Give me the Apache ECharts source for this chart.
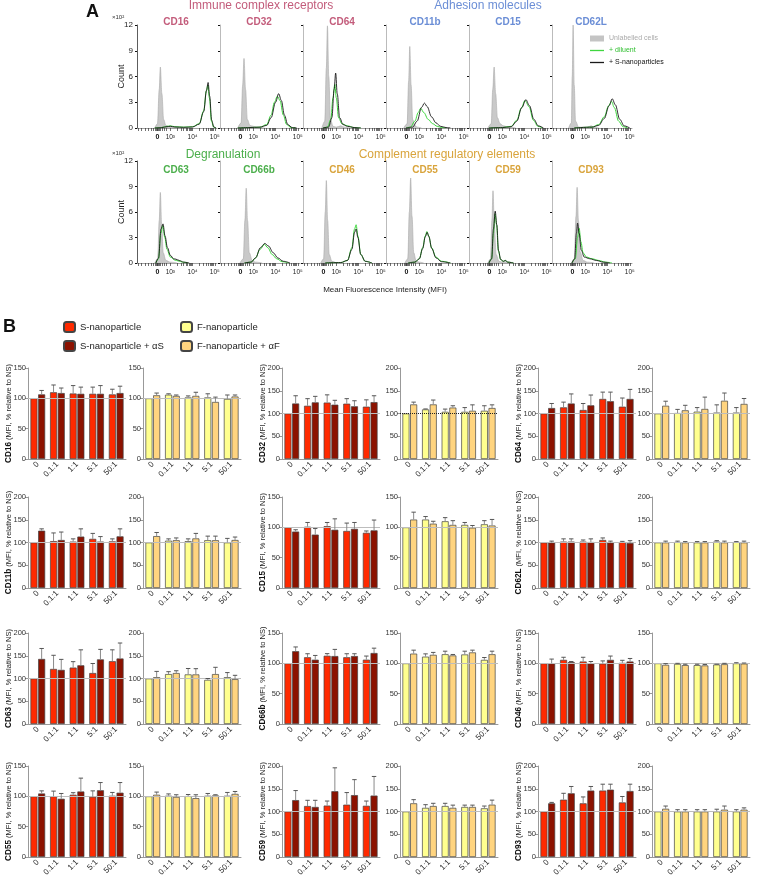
<!DOCTYPE html>
<html><head><meta charset="utf-8">
<script src="https://cdn.jsdelivr.net/npm/echarts@6/dist/echarts.min.js"></script>
<style>html,body{margin:0;padding:0;background:#fff}#c{width:757px;height:880px}</style>
</head><body><div id="c"></div><script>
// ---------- Panel A data ----------
const histMarkers = ['CD16','CD32','CD64','CD11b','CD15','CD62L','CD63','CD66b','CD46','CD55','CD59','CD93'];
const histGroups = ['ic','ic','ic','ad','ad','ad','dg','dg','cr','cr','cr','cr'];
const histYTicks = [0,3,6,9,12];
const histXTickValues = [2.42,3,4,5];
const histXTickLabels = ['0','10³','10⁴','10⁵'];
const histMinorTicks = [1.55,1.7,1.85,2.0,2.12,2.22,2.3,2.35,2.39,2.42,2.45,2.49,2.55,2.63,2.72,2.83,3.0,3.3,3.48,3.6,3.7,3.78,3.85,3.9,3.95,4.0,4.3,4.48,4.6,4.7,4.78,4.85,4.9,4.95,5.0];
const unlabelledCurves = [
 [[2.3,0],[2.42,0.5],[2.5,4.5],[2.55,7.1],[2.62,4],[2.7,1],[2.8,0.3],[2.95,0.15],[3.2,0.05],[3.6,0]],
 [[2.3,0],[2.45,0.6],[2.52,5],[2.58,8.1],[2.65,4.5],[2.73,1],[2.85,0.3],[3.0,0.2],[3.15,0.1],[3.5,0]],
 [[2.35,0],[2.48,0.8],[2.55,7],[2.6,11.9],[2.66,6],[2.74,1],[2.85,0.2],[3.0,0.1],[3.2,0.25],[3.35,0.1],[3.6,0]],
 [[2.3,0],[2.45,0.5],[2.52,5.5],[2.57,9.5],[2.63,5],[2.7,1],[2.8,0.3],[2.9,0.1],[3.1,0]],
 [[2.35,0],[2.5,0.5],[2.57,4.5],[2.63,7.1],[2.7,4],[2.78,1.2],[2.9,0.5],[3.05,0.25],[3.3,0.1],[3.6,0]],
 [[2.25,0],[2.37,0.6],[2.41,6],[2.45,12],[2.5,5],[2.56,0.8],[2.7,0.1],[3.1,0.1],[3.26,0.25],[3.4,0.05],[3.6,0]],
 [[2.3,0],[2.43,0.5],[2.5,5],[2.55,8.3],[2.61,4.5],[2.68,1.2],[2.8,0.3],[3.0,0.1],[3.3,0]],
 [[2.4,0],[2.55,0.5],[2.62,5],[2.68,8.8],[2.74,5],[2.82,1.2],[2.95,0.3],[3.1,0.1],[3.4,0]],
 [[2.3,0],[2.43,0.5],[2.5,6],[2.55,9.7],[2.61,5],[2.68,1],[2.8,0.2],[3.0,0]],
 [[2.35,0],[2.48,0.5],[2.55,6],[2.61,10],[2.67,5.5],[2.75,1.2],[2.85,0.3],[3.0,0.1],[3.2,0]],
 [[2.35,0],[2.47,0.5],[2.53,5],[2.58,8.5],[2.64,4.5],[2.72,1],[2.85,0.2],[3.0,0.1],[3.13,0.15],[3.3,0]],
 [[2.38,0],[2.5,0.5],[2.58,5.5],[2.63,8.9],[2.69,5],[2.77,1.3],[2.9,0.3],[3.1,0.1],[3.4,0]]
];
const diluentCurves = [
 [[2.3,0],[2.6,0.05],[2.85,0.2],[3.0,0.25],[3.2,0.15],[3.6,0.1],[4.0,0.15],[4.3,0.5],[4.5,2.0],[4.62,4.3],[4.69,5.0],[4.76,3.5],[4.85,0.8],[4.95,0.1],[5.05,0]],
 [[2.3,0],[2.8,0.05],[3.3,0.1],[3.6,0.4],[3.8,1.5],[3.95,3.0],[4.08,3.7],[4.2,3.2],[4.35,1.5],[4.5,0.4],[4.7,0.05],[4.9,0]],
 [[2.4,0],[2.6,0.1],[2.75,1],[2.85,3.5],[2.93,5.1],[3.0,3.5],[3.1,1.2],[3.25,0.5],[3.5,0.25],[3.8,0.05],[4.1,0]],
 [[2.4,0],[2.6,0.1],[2.8,0.8],[2.95,1.8],[3.06,2.3],[3.2,1.8],[3.4,1.0],[3.6,0.5],[3.8,0.2],[4.0,0.05],[4.2,0]],
 [[2.4,0],[3.0,0.05],[3.4,0.2],[3.65,0.9],[3.85,2.3],[4.02,3.2],[4.2,2.5],[4.4,0.9],[4.6,0.2],[4.8,0]],
 [[2.5,0],[3.3,0.1],[3.6,0.4],[3.85,1.3],[4.05,2.6],[4.18,3.1],[4.3,2.4],[4.5,0.8],[4.7,0.15],[4.9,0]],
 [[2.35,0],[2.47,0.5],[2.57,3.5],[2.66,4.4],[2.75,3],[2.85,1.6],[3.0,0.7],[3.2,0.35],[3.35,0.25],[3.55,0.1],[3.8,0]],
 [[2.6,0],[2.9,0.1],[3.1,0.6],[3.3,1.6],[3.5,2.2],[3.65,1.8],[3.85,1.0],[4.05,0.5],[4.3,0.15],[4.6,0]],
 [[2.5,0],[3.2,0.05],[3.5,0.3],[3.7,1.8],[3.82,4.0],[3.89,4.5],[3.97,3.2],[4.1,1.0],[4.3,0.2],[4.6,0]],
 [[2.5,0],[2.8,0.1],[3.0,0.5],[3.15,1.8],[3.27,3.2],[3.34,3.7],[3.42,3.2],[3.55,1.8],[3.75,0.7],[4.0,0.2],[4.4,0]],
 [[2.4,0],[2.52,0.5],[2.6,3.5],[2.67,5.8],[2.74,4.5],[2.82,1.5],[2.92,0.4],[3.05,0.2],[3.13,0.3],[3.25,0.1],[3.5,0]],
 [[2.4,0],[2.55,0.5],[2.65,3],[2.72,4.1],[2.8,2.5],[2.9,1.2],[3.05,0.7],[3.3,0.5],[3.6,0.3],[3.9,0.1],[4.2,0]]
];
const snpCurves = [
 [[2.3,0],[2.6,0.05],[2.85,0.15],[3.0,0.2],[3.2,0.12],[3.6,0.08],[4.0,0.12],[4.3,0.45],[4.5,1.9],[4.63,4.4],[4.70,5.3],[4.77,3.7],[4.86,0.9],[4.96,0.1],[5.06,0]],
 [[2.3,0],[2.8,0.05],[3.3,0.1],[3.6,0.3],[3.8,1.2],[4.0,3.0],[4.14,4.0],[4.26,3.2],[4.4,1.5],[4.55,0.4],[4.75,0.05],[4.95,0]],
 [[2.4,0],[2.65,0.1],[2.8,1.2],[2.9,4.5],[2.97,6.4],[3.04,4],[3.15,1.2],[3.3,0.4],[3.5,0.2],[3.8,0.05],[4.1,0]],
 [[2.4,0],[2.7,0.1],[2.9,0.8],[3.1,2.4],[3.23,2.9],[3.35,2.5],[3.55,1.3],[3.75,0.6],[3.95,0.2],[4.2,0.05],[4.4,0]],
 [[2.4,0],[3.0,0.05],[3.4,0.15],[3.65,0.8],[3.88,2.4],[4.06,3.3],[4.22,2.6],[4.42,1.0],[4.62,0.25],[4.85,0]],
 [[2.5,0],[3.3,0.1],[3.6,0.3],[3.85,1.1],[4.07,2.6],[4.21,3.4],[4.35,2.7],[4.55,1.0],[4.75,0.25],[5.0,0]],
 [[2.35,0],[2.47,0.6],[2.58,4],[2.67,4.6],[2.76,3.2],[2.87,1.8],[3.0,0.9],[3.15,0.5],[3.25,0.45],[3.4,0.3],[3.6,0.1],[3.85,0]],
 [[2.6,0],[2.9,0.1],[3.1,0.6],[3.32,1.8],[3.52,2.3],[3.68,2.0],[3.9,1.2],[4.1,0.6],[4.35,0.2],[4.65,0]],
 [[2.5,0],[3.2,0.05],[3.5,0.3],[3.7,1.6],[3.82,3.6],[3.89,4.0],[3.97,3.0],[4.1,1.0],[4.3,0.2],[4.6,0]],
 [[2.5,0],[2.8,0.1],[3.0,0.5],[3.15,1.7],[3.27,3.1],[3.35,3.6],[3.43,3.1],[3.56,1.7],[3.75,0.6],[4.0,0.15],[4.4,0]],
 [[2.4,0],[2.52,0.5],[2.6,4],[2.68,6.1],[2.75,4.5],[2.83,1.4],[2.93,0.4],[3.05,0.2],[3.13,0.3],[3.25,0.1],[3.5,0]],
 [[2.4,0],[2.52,0.5],[2.6,3.5],[2.65,4.7],[2.72,3.5],[2.82,1.5],[2.95,0.7],[3.2,0.5],[3.5,0.3],[3.8,0.1],[4.1,0]]
];

// ---------- Panel B data ----------
const barCategories = ['0','0.1:1','1:1','5:1','50:1'];
const barMarkers = ['CD16','CD32','CD64','CD11b','CD15','CD62L','CD63','CD66b','CD46','CD55','CD59','CD93'];
const yMaxS = [150,200,200,200,150,200,200,150,150,150,200,200];
const yMaxF = [150,200,200,200,150,200,200,150,150,150,200,200];
const sMean = [[100,110,108,107.5,106.5],[100,117,124,121.6,115],[100,113.5,107.7,132,115],[100,103,102,108,102.5],[100,101,102,94,91],[100,102,102,105.5,101],[100,121,124,112,138],[100,110,112.5,110,106],[100,105.7,103,99.6,100.7],[100,100,102.6,99.3,101],[100,112,113,115,112.6],[100,126,118,146,120]];
const sSD = [[0,12,13,11,8.5],[0,15.6,17,11,15],[0,11.5,14.3,15,19],[0,18,6,12,5.5],[0,7,6,13,3],[0,6,3.5,4.5,1.5],[0,30,13,21,25],[0,5.8,3.5,5.8,6],[0,4.3,7,4.4,4.3],[0,8.6,3.4,9.7,5.4],[0,12.6,10,26.6,10.4],[0,14,14,14,13]];
const saMean = [[106.5,108.7,107.5,107.5,108.7],[122,124.5,119.4,115.8,125],[112,122,118,127,132],[126,105.5,113,102,113.5],[93,88,96,97.5,95],[100,102,101,100,99],[143,119,129,142,144],[120,106,112,112,117],[100,102,100,105.7,103],[104.7,96,108,110,106],[125,110,144.6,136,135],[118,140,146,148,145]];
const saSD = [[6.5,8.3,11,13.5,11.3],[17,13.2,9.6,12.2,14],[10,21,22.6,20,21],[4,17.5,17,11,16.5],[3,10,18,10.5,17],[3,6,7,3,5],[23,23,34,22,34],[7,7,11,3.8,8],[7,1,3,6.3,5],[4.3,8.7,22,12.7,16.7],[21,14.6,51.4,34,42],[2,15,9,12,15]];
const fMean = [[100,106,101.5,101.5,99],[100,109,103.7,103.7,106],[100,101,104,102,102],[100,104,103,105,100],[100,112.8,110,104,105],[100,101,100,102,101],[100,109.7,109,97,103],[100,111,115,114.6,105.7],[100,99,97,98,100],[100,101,100.4,101,101],[100,108,112,110,107],[100,100,100,100,100]];
const fSD = [[0,1.5,2.5,6,6.5],[0,1,6,9.3,11],[0,8,9,17,11],[0,4,5,9,9],[0,5,6,4,6],[0,2,2,2,1],[0,5.3,13,3,10],[0,4.6,5,5.4,3.9],[0,1,1.5,0.5,1],[0,3,2.6,3.7,5.4],[0,7,6,4,5],[0,4,4,5,4]];
const faMean = [[105,104,104,94,103],[120,120,113,106,112],[117,107,110,128,121],[114,105,109,105,105.5],[112.8,106,104,99.4,103],[100,100,100,100,100],[103,112,109,109.7,98.5],[116,114,113,118,115],[97.5,97,96.5,98.5,99.5],[102.6,99,97,101.5,104],[118,112,108,110,115],[106,100,100,104,104]];
const faSD = [[3.7,1.5,6,8,2.5],[5,9.6,4,13,7],[10,11,26,17,12],[8,5,11,9,6.5],[12.2,4,7,3.6,10],[3,2,2,3,3],[12.6,5,12.6,14.9,8.5],[5.7,4,1.6,3.7,5],[2,1.5,1.5,1.5,1],[4.4,3.6,5.6,1.1,4],[8,6,6,4,10],[6,4,4,8,4]];
const refLine = 100;

// ---------- styling ----------
const FONT = '"Liberation Sans", Arial, sans-serif';
const groupColor = {ic:'#c35c7b', ad:'#6b8ed6', dg:'#4caf4c', cr:'#d9a43c'};
const colS = '#ff2a00', colSA = '#8c1200', colF = '#ffff8f', colFA = '#ffd47f';
const histLeft = [137,220,303,386,469,552];
const histTop = [25,161], histH = [103,102];
const barLeftS = [28,282,538], barLeftF = [143,400,652];
const barTop = [368,497,633,766];

const chart = echarts.init(document.getElementById('c'), null, {renderer:'canvas'});
const grids = [], xAxes = [], yAxes = [], series = [], titles = [];
function addText(text, left, top, style, align){
  const t = {text:text, left:left, top:top, padding:0, textStyle:Object.assign({fontFamily:FONT, fontWeight:'normal'}, style)};
  if (align) t.textAlign = align;
  titles.push(t);
}
addText('A', 86, 3, {fontSize:18, fontWeight:'bold', color:'#111'});
addText('B', 3, 318, {fontSize:18, fontWeight:'bold', color:'#111'});
const headers = [['Immune complex receptors',261,0,'ic'],['Adhesion molecules',488,0,'ad'],['Degranulation',223,149,'dg'],['Complement regulatory elements',447,149,'cr']];
headers.forEach(h=>addText(h[0], h[1], h[2], {fontSize:12, color:groupColor[h[3]]}, 'center'));
addText('Mean Fluorescence Intensity (MFI)', 385, 286, {fontSize:8, color:'#222'}, 'center');

// ---------- Panel A ----------
const histLabelTop = [17,165];
histMarkers.forEach((m,i)=>{
  const row = Math.floor(i/6), col = i%6;
  const g = grids.length;
  grids.push({left:histLeft[col], top:histTop[row], width:80, height:histH[row], outerBoundsMode:'none'});
  addText(m, histLeft[col]+39, histLabelTop[row], {fontSize:10, fontWeight:'bold', color:groupColor[histGroups[i]]}, 'center');
  xAxes.push({gridIndex:g, type:'value', min:1.5, max:5.1,
    axisLine:{show:true, lineStyle:{color:'#888', width:0.8}},
    axisTick:{show:true, customValues:histMinorTicks, length:3, lineStyle:{color:'#333', width:0.7}},
    axisLabel:{show:true, customValues:histXTickValues, fontSize:6.5, color:'#222', margin:6, fontFamily:FONT,
      formatter:v=>{const k=histXTickValues.indexOf(v); return k===0?'{z|0}':histXTickLabels[k];},
      rich:{z:{fontWeight:'bold', fontSize:7, color:'#111'}}},
    splitLine:{show:false}});
  const first = col===0;
  yAxes.push({gridIndex:g, type:'value', min:0, max:12, interval:3,
    name: first ? 'Count' : '', nameLocation:'middle', nameGap:11, nameRotate:90, nameMoveOverlap:false,
    nameTextStyle:{fontSize:9, color:'#222', fontFamily:FONT},
    axisLine:{show:true, lineStyle:{color: first?'#333':'#aaa', width:0.8}},
    axisTick:{show:true, length:2, lineStyle:{color:'#111', width:1.2}},
    axisLabel:{show:first, fontSize:8, color:'#222', margin:4, fontFamily:FONT},
    splitLine:{show:false}});
  if (first) addText('×10²', 112, histTop[row]-11, {fontSize:6, color:'#333'});
  series.push({name:'Unlabelled cells', type:'line', xAxisIndex:g, yAxisIndex:g, data:unlabelledCurves[i], smooth:0.35, smoothMonotone:'x', symbol:'none', color:'#c4c4c4',
    lineStyle:{color:'#aaa', width:0.6}, areaStyle:{color:'#c9c9c9', opacity:1}, z:1, silent:true});
  series.push({name:'+ diluent', type:'line', xAxisIndex:g, yAxisIndex:g, data:diluentCurves[i], smooth:0.35, smoothMonotone:'x', symbol:'none', color:'#3fd63f',
    lineStyle:{color:'#3fd63f', width:1}, z:2, silent:true});
  series.push({name:'+ S-nanoparticles', type:'line', xAxisIndex:g, yAxisIndex:g, data:snpCurves[i], smooth:0.35, smoothMonotone:'x', symbol:'none', color:'#1a1a1a',
    lineStyle:{color:'#1a1a1a', width:0.9}, z:3, silent:true});
});

// ---------- Panel B ----------
function errRender(offset){
  return function(params, api){
    const i = api.value(0), m = api.value(1), t = api.value(2);
    if (!(t > m)) return;
    const p0 = api.coord([i, m]), p1 = api.coord([i, t]);
    const x = p0[0] + offset;
    return {type:'group', children:[
      {type:'line', shape:{x1:x, y1:p0[1], x2:x, y2:p1[1]}, style:{stroke:'#8a8a8a', lineWidth:1}},
      {type:'line', shape:{x1:x-2.2, y1:p1[1], x2:x+2.2, y2:p1[1]}, style:{stroke:'#555', lineWidth:1}}
    ]};
  };
}
function addBarChart(left, top, k, kind){
  const g = grids.length;
  grids.push({left:left, top:top, width:98, height:91, outerBoundsMode:'none'});
  const isS = kind==='S';
  xAxes.push({gridIndex:g, type:'category', data:barCategories,
    axisLine:{show:true, lineStyle:{color:'#999', width:1}}, axisTick:{show:false},
    axisLabel:{rotate:45, fontSize:8, color:'#222', margin:4, interval:0, fontFamily:FONT}, splitLine:{show:false}});
  yAxes.push({gridIndex:g, type:'value', min:0, max:isS?yMaxS[k]:yMaxF[k], interval:50,
    name: isS ? '{b|'+barMarkers[k]+'} (MFI, % relative to NS)' : '', nameLocation:'middle', nameGap:15, nameMoveOverlap:false,
    nameTextStyle:{fontSize:7.5, color:'#222', fontFamily:FONT, rich:{b:{fontWeight:'bold', fontSize:8.2, color:'#111', fontFamily:FONT}}},
    axisLine:{show:true, lineStyle:{color:'#999', width:1}},
    axisTick:{show:true, length:3, lineStyle:{color:'#999'}},
    axisLabel:{fontSize:7.5, color:'#333', margin:2, fontFamily:FONT}, splitLine:{show:false}});
  const m1 = isS ? sMean[k] : fMean[k], d1 = isS ? sSD[k] : fSD[k];
  const m2 = isS ? saMean[k] : faMean[k], d2 = isS ? saSD[k] : faSD[k];
  const dotted = (barMarkers[k]==='CD32' && !isS);
  series.push({name: isS?'S-nanoparticle':'F-nanoparticle', type:'bar', xAxisIndex:g, yAxisIndex:g, data:m1,
    barWidth:7, barGap:'10%', color:isS?colS:colF, itemStyle:{color:isS?colS:colF, borderColor:'#444', borderWidth:0.7}, silent:true,
    markLine:{silent:true, symbol:'none', label:{show:false}, animation:false,
      lineStyle:{color: dotted?'#222':'#bdbdbd', type: dotted?'dotted':'solid', width:1}, data:[{yAxis:refLine}]}});
  series.push({name: isS?'S-nanoparticle + αS':'F-nanoparticle + αF', type:'bar', xAxisIndex:g, yAxisIndex:g, data:m2,
    barWidth:7, barGap:'10%', color:isS?colSA:colFA, itemStyle:{color:isS?colSA:colFA, borderColor:'#444', borderWidth:0.7}, silent:true});
  series.push({type:'custom', xAxisIndex:g, yAxisIndex:g, renderItem:errRender(-3.85), z:5, silent:true,
    encode:{x:0, y:[1,2]}, data:barCategories.map((c,i)=>[i, m1[i], m1[i]+d1[i]])});
  series.push({type:'custom', xAxisIndex:g, yAxisIndex:g, renderItem:errRender(3.85), z:5, silent:true,
    encode:{x:0, y:[1,2]}, data:barCategories.map((c,i)=>[i, m2[i], m2[i]+d2[i]])});
}
barMarkers.forEach((m,k)=>{
  const r = Math.floor(k/3), c = k%3;
  addBarChart(barLeftS[c], barTop[r], k, 'S');
  addBarChart(barLeftF[c], barTop[r], k, 'F');
});

const lineIcon = 'path://M0,0L14,0L14,1.3L0,1.3Z';
const legends = [
  {left:590, top:35, orient:'vertical', itemWidth:14, itemHeight:6, itemGap:5, selectedMode:false, padding:0,
   textStyle:{fontSize:7, fontFamily:FONT},
   data:[{name:'Unlabelled cells', icon:'rect', textStyle:{color:'#aaa'}},
         {name:'+ diluent', icon:lineIcon, textStyle:{color:'#2fbf2f'}},
         {name:'+ S-nanoparticles', icon:lineIcon, textStyle:{color:'#111'}}]},
  {left:63, top:321, orient:'vertical', itemWidth:11, itemHeight:10, itemGap:7, selectedMode:false, padding:0,
   textStyle:{fontSize:9.5, color:'#222', fontFamily:FONT}, data:['S-nanoparticle','S-nanoparticle + αS']},
  {left:180, top:321, orient:'vertical', itemWidth:11, itemHeight:10, itemGap:7, selectedMode:false, padding:0,
   textStyle:{fontSize:9.5, color:'#222', fontFamily:FONT}, data:['F-nanoparticle','F-nanoparticle + αF']}
];

chart.setOption({animation:false, backgroundColor:'#fff', title:titles, legend:legends, grid:grids, xAxis:xAxes, yAxis:yAxes, series:series});
</script></body></html>
